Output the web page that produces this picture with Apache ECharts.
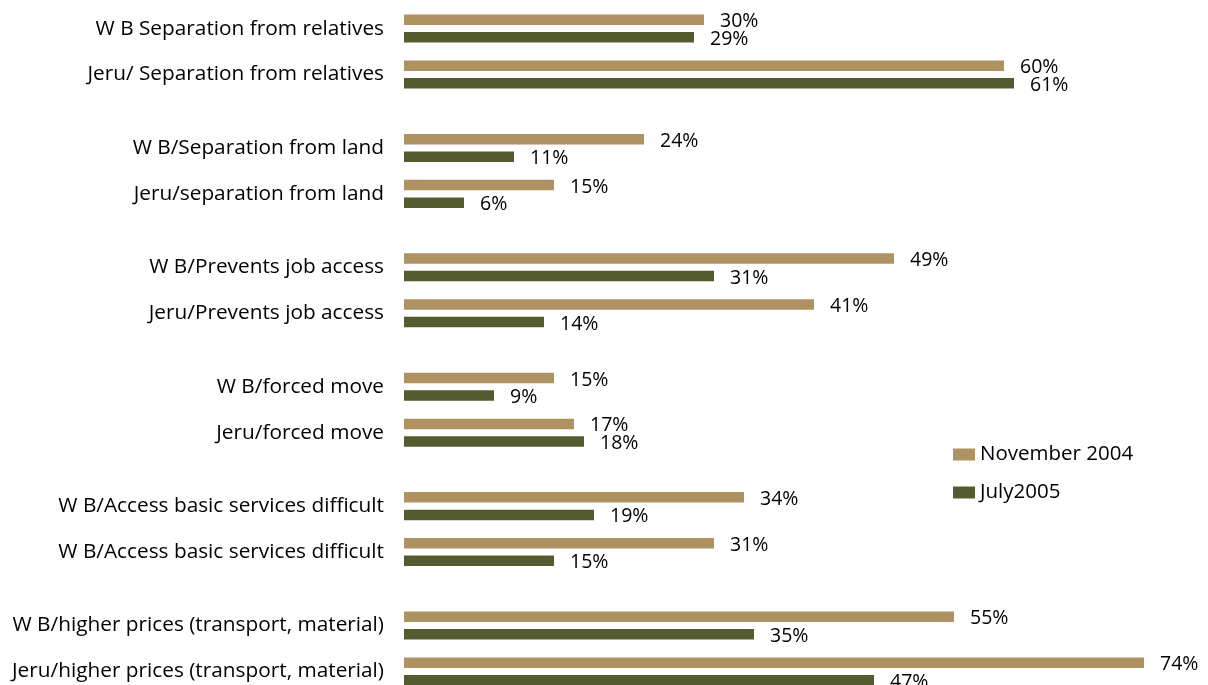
<!DOCTYPE html>
<html>
<head>
<meta charset="utf-8">
<script src="https://cdn.jsdelivr.net/npm/echarts@6/dist/echarts.min.js"></script>
<style>
html, body { margin: 0; padding: 0; background: #fff; }
#main { width: 1208px; height: 685px; }
</style>
</head>
<body>
<div id="main"></div>
<script>
var categories = [
    'W B Separation from relatives',
    'Jeru/ Separation from relatives',
    'W B/Separation from land',
    'Jeru/separation from land',
    'W B/Prevents job access',
    'Jeru/Prevents job access',
    'W B/forced move',
    'Jeru/forced move',
    'W B/Access basic services difficult',
    'W B/Access basic services difficult',
    'W B/higher prices (transport, material)',
    'Jeru/higher prices (transport, material)'
];
var nov2004 = [30, 60, 24, 15, 49, 41, 15, 17, 34, 31, 55, 74];
var jul2005 = [29, 61, 11, 6, 31, 14, 9, 18, 19, 15, 35, 47];

// pairs of rows with wider gaps between pairs: spread over blank slots
var SLOTS_PER_PAIR = 13, PAIR_STEP = 5;
var nSlots = (categories.length / 2 - 1) * SLOTS_PER_PAIR + PAIR_STEP + 1;
var axisCats = [], novData = [], julData = [];
for (var s = 0; s < nSlots; s++) {
    axisCats.push('');
    novData.push('-');
    julData.push('-');
}
categories.forEach(function (c, i) {
    var slot = Math.floor(i / 2) * SLOTS_PER_PAIR + (i % 2) * PAIR_STEP;
    axisCats[slot] = c;
    novData[slot] = nov2004[i];
    julData[slot] = jul2005[i];
});

var FONT = 'Open Sans';
var myChart = echarts.init(document.getElementById('main'));
var valueLabel = {
    show: true,
    position: 'right',
    distance: 16,
    offset: [0, 2],
    formatter: '{c}%',
    fontFamily: FONT,
    fontSize: 19.5,
    color: '#000'
};
var option = {
    animation: false,
    textStyle: {fontFamily: FONT},
    legend: {
        orient: 'vertical',
        left: 948,
        top: 439,
        itemWidth: 22,
        itemHeight: 12,
        itemGap: 17,
        icon: 'rect',
        textStyle: {fontFamily: FONT, fontSize: 20.5, color: '#000'},
        data: ['November 2004', 'July2005']
    },
    grid: {left: 404, right: 4, top: 24, height: 652},
    xAxis: {
        type: 'value',
        min: 0,
        max: 80,
        show: false
    },
    yAxis: {
        type: 'category',
        inverse: true,
        data: axisCats,
        axisLine: {show: false},
        axisTick: {show: false},
        axisLabel: {
            interval: 0,
            margin: 20,
            fontFamily: FONT,
            fontSize: 20.8,
            color: '#000'
        }
    },
    series: [
        {
            name: 'November 2004',
            type: 'bar',
            data: novData,
            barWidth: 10.5,
            barGap: '67%',
            clip: false,
            itemStyle: {color: '#AE9262'},
            label: valueLabel
        },
        {
            name: 'July2005',
            type: 'bar',
            data: julData,
            barWidth: 10.5,
            barGap: '67%',
            clip: false,
            itemStyle: {color: '#545B2E'},
            label: valueLabel
        }
    ]
};
myChart.setOption(option);
</script>
</body>
</html>
